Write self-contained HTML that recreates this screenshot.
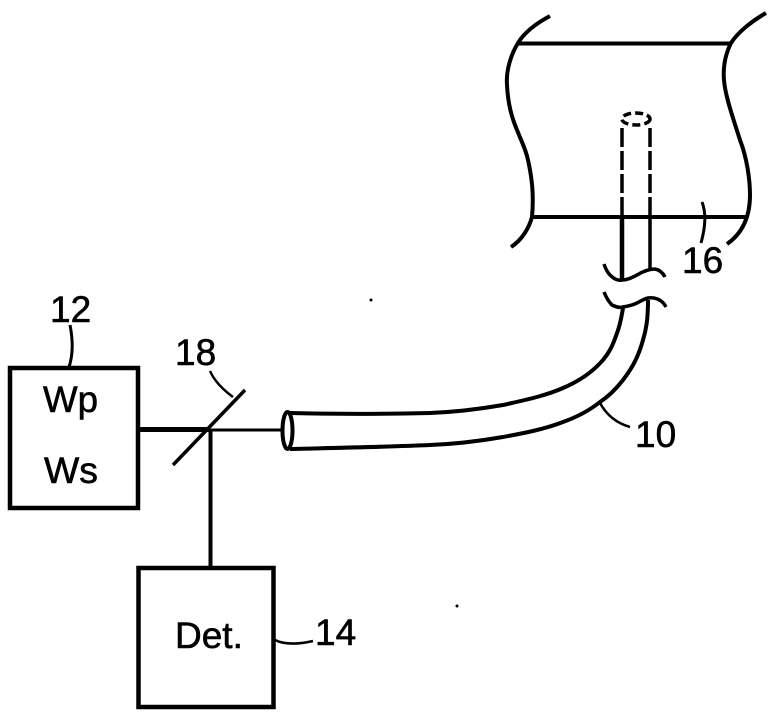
<!DOCTYPE html>
<html>
<head>
<meta charset="utf-8">
<style>
html,body{margin:0;padding:0;background:#fff;}
svg{display:block;}
text{font-family:"Liberation Sans",sans-serif;fill:#000;stroke:#000;stroke-width:.6;font-size:37px;}
</style>
</head>
<body>
<svg width="772" height="725" viewBox="0 0 772 725" xmlns="http://www.w3.org/2000/svg">
<g fill="none" stroke="#000" stroke-width="4">
  <!-- vessel -->
  <path d="M550 16 C535 24 524 33 518 43 C510 56 506 72 507 85 C508 105 512 118 517 130 C523 145 526 150 528 160 C532 178 534 195 532 217 C529 228 522 240 511 247"/>
  <path d="M766 13 C752 21 738 32 731 43 C725 55 723 68 724 80 C725 95 733 118 740 140 C747 158 750 180 750 195 C750 220 740 235 727 244"/>
  <path d="M518 43.5 H731"/>
  <path d="M532 217 H748"/>
  <!-- probe in vessel -->
  <ellipse cx="636" cy="119" rx="14" ry="6" stroke-dasharray="8 4" stroke-width="3.5"/>
  <path d="M622 128 V217" stroke-dasharray="19 4" stroke-width="3.5"/>
  <path d="M650 128 V217" stroke-dasharray="19 4" stroke-width="3.5"/>
  <path d="M622 215 V281" stroke-width="4.5"/>
  <path d="M650 215 V270" stroke-width="3.5"/>
  <!-- break lines -->
  <path d="M604 264 C606 270 608 273 610 275 C614 279 618 281 622 280 C628 280 633 277 637 275 C642 272 648 269 655 269 C660 270 663 273 665 277" stroke-width="3.5"/>
  <path d="M604 292 C606 297 609 302 612 305 C616 307 619 308 623 307 C629 306 633 305 637 303 C641 301 644 299 648 298 C654 297 662 299 666 307" stroke-width="3.5"/>
  <!-- fibre -->
  <path d="M623 308 C621 320 619 328 617 333 C612 348 608 354 603 360 C590 375 575 383 563 388 C545 396 525 400 503 405 C480 409 455 412 430 413 C385 414 330 414 290 413"/>
  <path d="M648 300 C648 320 646 330 643 340 C638 358 632 368 623 380 C616 389 609 396 600 402 C590 410 577 417 563 422 C545 429 525 433 503 437 C480 441 455 444 430 445 C385 447 330 448 290 449"/>
  <ellipse cx="287.5" cy="430.5" rx="5" ry="18.5"/>
  <!-- 16 leader -->
  <path d="M702 202 C706 212 706 225 701 243" stroke-width="3"/>
  <!-- 10 leader -->
  <path d="M600 403 C606 414 616 423 630 427" stroke-width="2.5"/>
  <!-- boxes -->
  <rect x="10" y="368" width="128" height="140" stroke-width="4.5"/>
  <rect x="138.5" y="568" width="135" height="139" stroke-width="4.5"/>
  <!-- connections -->
  <path d="M208 430 H283" stroke-width="3"/>
  <path d="M138 429.5 H209" stroke-width="5"/>
  <path d="M210.5 430 V568" stroke-width="4"/>
  <path d="M173 465 L245 390" stroke-width="3.5"/>
  <path d="M70 325 C73 340 73 355 69 367" stroke-width="3"/>
  <path d="M275 640 C285 645 300 644 313 641" stroke-width="2.5"/>
  <!-- 18 leader -->
  <path d="M210 371 C214 380 222 389 233 397" stroke-width="2.5"/>
</g>
<circle cx="371" cy="300" r="1.5" fill="#000"/>
<circle cx="457" cy="606" r="1.5" fill="#000"/>
<text x="50" y="322">12</text>
<text x="175" y="365">18</text>
<text x="43" y="412" textLength="55" lengthAdjust="spacingAndGlyphs">Wp</text>
<text x="44" y="483" textLength="54" lengthAdjust="spacingAndGlyphs">Ws</text>
<text x="175" y="648">Det.</text>
<text x="315" y="645">14</text>
<text x="635" y="447">10</text>
<text x="682" y="273">16</text>
</svg>
</body>
</html>
